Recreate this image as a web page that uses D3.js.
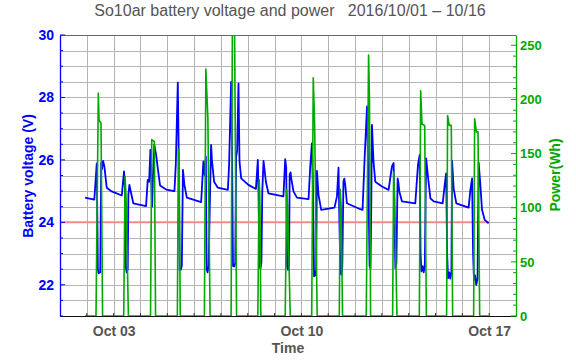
<!DOCTYPE html>
<html><head><meta charset="utf-8">
<script src="https://cdn.jsdelivr.net/npm/d3@7"></script>
<style>body{margin:0;background:#fff}svg{display:block}text{font-family:"Liberation Sans",Arial,sans-serif}</style>
</head><body>
<script>
// ---- data (hours since 2016-10-01 00:00) ----
const voltHours = [22.4,30.7,32.9,33.9,34.5,36.0,36.9,37.6,38.5,39.7,41.8,46.3,55.3,
 56.4,57.3,58.2,58.8,59.7,60.6,61.2,62.1,63.6,65.6,77.0,
 78.5,79.7,80.9,81.8,82.4,83.2,84.4,86.0,87.5,89.5,95.0,102.4,
 103.6,105.4,106.3,107.0,108.0,109.0,110.0,111.3,113.5,126.3,
 128.3,129.5,130.5,131.2,132.0,133.0,134.3,135.2,135.9,137.9,141.2,150.2,
 151.3,153.1,154.0,154.8,155.8,156.8,157.6,158.5,159.7,160.6,162.1,168.6,175.3,
 177.0,177.6,178.4,179.4,180.2,181.0,182.1,184.2,186.5,199.9,
 201.5,202.4,203.2,204.0,204.9,205.5,206.3,206.9,208.9,212.0,222.4,
 223.9,225.4,226.4,227.3,228.3,229.2,229.9,231.3,233.7,245.6,
 247.8,249.2,250.0,250.9,251.8,252.6,253.6,254.4,255.2,256.7,268.7,270.7,
 272.5,274.7,276.1,277.0,277.8,278.5,279.1,280.5,282.1,288.1,294.0,
 297.0,298.5,299.3,300.1,301.0,301.7,302.1,302.7,303.6,306.0,317.9,
 320.3,321.8,322.6,323.4,324.5,325.4,326.4,327.6,329.4,331.4,334.4,342.4,
 344.2,345.5,346.4,347.2,348.3,349.2,350.2,350.8,352.2,354.6,365.6,
 367.2,368.7,369.6,370.4,371.4,372.4,373.6,374.6,376.1,377.6,380.0,383.5];
const voltValues = [24.79,24.73,25.89,22.5,22.37,22.4,25.9,25.7,25.97,25.79,25.11,24.99,24.86,
 25.3,25.63,25.0,22.6,22.4,22.5,24.9,25.2,24.94,24.61,24.52,
 25.36,25.3,26.32,25.2,24.5,25.5,26.48,26.16,25.73,25.18,25.05,25.0,
 25.84,28.47,26.0,22.5,22.48,22.6,25.68,25.2,24.79,24.65,
 25.95,25.5,26.1,22.5,22.4,22.6,25.0,26.48,26.0,25.3,25.11,25.04,
 25.84,28.5,26.0,22.6,22.59,22.7,26.1,26.3,28.45,25.95,25.41,25.2,25.07,
 26.0,25.0,22.6,22.53,22.7,25.0,25.97,25.3,24.93,24.83,
 26.02,25.75,22.6,22.48,22.6,25.52,25.6,25.41,24.99,24.79,24.74,
 25.79,26.53,25.0,22.27,22.3,22.5,25.65,24.88,24.4,24.47,
 24.83,25.75,24.0,22.4,22.32,22.6,25.3,25.4,25.2,24.61,24.42,24.4,
 26.0,27.71,24.88,22.6,22.53,24.5,27.12,25.95,25.3,25.15,25.04,
 25.79,25.9,24.0,22.53,22.7,24.5,25.41,25.3,24.99,24.67,24.61,
 25.84,26.16,23.0,22.43,22.6,22.4,22.6,26.05,25.41,24.77,24.67,24.61,
 25.2,25.57,23.0,22.21,22.4,22.2,22.4,25.97,25.09,24.61,24.47,
 25.04,25.41,23.0,22.16,22.3,22.0,22.2,25.91,25.2,24.4,24.08,23.97];
const powerHours = [22.4,
 32.2,34.3,34.9,36.7,38.1,
 57.0,58.2,59.1,61.2,
 81.0,82.1,84.4,85.5,
 105.0,105.9,106.6,107.6,
 129.2,130.5,132.3,134.3,
 153.1,154.3,156.2,158.0,
 177.0,178.2,178.8,179.7,
 201.5,202.8,203.7,206.0,
 225.2,226.6,227.8,230.1,
 249.9,250.7,251.6,252.8,
 274.0,276.1,276.9,277.9,
 297.6,298.5,299.4,301.5,
 321.5,322.7,323.9,326.3,327.8,
 345.9,346.8,348.3,350.1,351.3,
 370.1,371.0,372.5,374.0,375.5,
 383.5];
const powerValues = [0,
 0,206,181,178,0,
 0,129,109,0,
 0,163,161,0,
 0,154,140,0,
 0,228,183,0,
 0,285,262,0,
 0,126,110,0,
 0,117,100,0,
 0,220,179,0,
 0,117,100,0,
 0,241,200,0,
 0,133,109,0,
 0,208,177,176,0,
 0,185,176,176,0,
 0,182,170,170,0,
 0];
const thresholdVolt = [24];
const thresholdDays = ["2016-10-01","2016-10-17"];
const voltTicks = [22,24,26,28,30];
const powerTicks = [0,50,100,150,200,250];
const dateTicks = ["2016-10-03","2016-10-10","2016-10-17"];
const titleText = "So10ar battery voltage and power\u00a0\u00a0\u00a02016/10/01 \u2013 10/16";

// ---- layout ----
const W = 576, H = 362;
const L = 60, R = 516, T = 35, B = 316;
const base = Date.UTC(2016, 9, 1);
const toDate = h => new Date(base + h * 3600e3);
const parse = d3.utcParse("%Y-%m-%d");

const x = d3.scaleUtc().domain([new Date(base), new Date(Date.UTC(2016, 9, 18))]).range([L, R]);
const yV = d3.scaleLinear().domain([21, 30]).range([B, T]);
const yP = d3.scaleLinear().domain([0, 259.5]).range([B, T]);

const blue = "#0000ff", green = "#00a800", gray = "#555555";

const svg = d3.select("body").append("svg").attr("width", W).attr("height", H);
svg.append("defs").append("clipPath").attr("id", "clip")
  .append("rect").attr("x", L).attr("y", T).attr("width", R - L).attr("height", B - T);

// grid
const grid = svg.append("g").attr("stroke", "#b4b4b4").attr("stroke-width", 1);
d3.utcDay.range(d3.utcDay.offset(x.domain()[0], 1), x.domain()[1]).forEach(d => {
  grid.append("line").attr("x1", Math.round(x(d)) + 0.5).attr("x2", Math.round(x(d)) + 0.5)
    .attr("y1", T).attr("y2", B);
});
d3.range(21.5, 30, 0.5).forEach(v => {
  grid.append("line").attr("x1", L).attr("x2", R)
    .attr("y1", Math.round(yV(v)) + 0.5).attr("y2", Math.round(yV(v)) + 0.5);
});

const plot = svg.append("g").attr("clip-path", "url(#clip)");
// threshold
plot.append("line")
  .attr("x1", x(parse(thresholdDays[0]))).attr("x2", x(parse(thresholdDays[1])))
  .attr("y1", yV(thresholdVolt[0])).attr("y2", yV(thresholdVolt[0]))
  .attr("stroke", "#f48a8a").attr("stroke-width", 2);

// voltage line
const vData = voltHours.map((h, i) => [toDate(h), voltValues[i]]);
plot.append("path").datum(vData)
  .attr("fill", "none").attr("stroke", blue).attr("stroke-width", 1.8).attr("stroke-linejoin", "round")
  .attr("d", d3.line().x(d => x(d[0])).y(d => yV(d[1])));

// power line
const pData = powerHours.map((h, i) => [toDate(h), powerValues[i]]);
plot.append("path").datum(pData)
  .attr("fill", "none").attr("stroke", green).attr("stroke-width", 1.6).attr("stroke-linejoin", "round")
  .attr("d", d3.line().x(d => x(d[0])).y(d => yP(d[1])));

// frame
svg.append("line").attr("x1", L).attr("x2", R).attr("y1", T + 0.5).attr("y2", T + 0.5).attr("stroke", "#666");

// bottom axis
const xAxis = d3.axisBottom(x).tickValues(dateTicks.map(parse)).tickFormat(d3.utcFormat("%b %d")).tickSize(0).tickPadding(10);
const gx = svg.append("g").attr("transform", `translate(0,${B})`).call(xAxis);
gx.select(".domain").attr("stroke", "#111").attr("stroke-width", 1.2);
gx.selectAll("text").attr("fill", gray).attr("font-size", 14).attr("font-weight", "bold");
d3.utcDay.range(d3.utcDay.offset(x.domain()[0], 1), x.domain()[1]).forEach(d => {
  gx.append("line").attr("x1", x(d)).attr("x2", x(d)).attr("y1", 0).attr("y2", -3).attr("stroke", "#333");
});

// left axis
const yAxisL = d3.axisLeft(yV).tickValues(voltTicks).tickSize(0).tickPadding(6).tickFormat(d3.format("d"));
const gl = svg.append("g").attr("transform", `translate(${L},0)`).call(yAxisL);
gl.select(".domain").attr("stroke", blue).attr("stroke-width", 1.3);
gl.selectAll("text").attr("fill", blue).attr("font-size", 14).attr("font-weight", "bold");
d3.range(21, 30.01, 0.5).forEach(v => {
  gl.append("line").attr("x1", 0).attr("x2", v % 2 === 0 ? 5 : 3).attr("y1", yV(v)).attr("y2", yV(v)).attr("stroke", blue);
});

// right axis
const yAxisR = d3.axisRight(yP).tickValues(powerTicks).tickSize(0).tickPadding(4);
const gr = svg.append("g").attr("transform", `translate(${R},0)`).call(yAxisR);
gr.select(".domain").attr("stroke", green).attr("stroke-width", 1.3);
gr.selectAll("text").attr("fill", green).attr("font-size", 13).attr("font-weight", "bold");
d3.range(0, 251, 10).forEach(v => {
  gr.append("line").attr("x1", 0).attr("x2", v % 50 === 0 ? -5 : -3).attr("y1", yP(v)).attr("y2", yP(v)).attr("stroke", green);
});

// labels
svg.append("text").attr("x", 290).attr("y", 16).attr("text-anchor", "middle")
  .attr("fill", gray).attr("font-size", 16).text(titleText);
svg.append("text").attr("x", 288).attr("y", 353).attr("text-anchor", "middle")
  .attr("fill", gray).attr("font-size", 14).attr("font-weight", "bold").text("Time");
svg.append("text").attr("transform", "translate(33,176) rotate(-90)").attr("text-anchor", "middle")
  .attr("fill", blue).attr("font-size", 14).attr("font-weight", "bold").text("Battery voltage (V)");
svg.append("text").attr("transform", "translate(560,175) rotate(-90)").attr("text-anchor", "middle")
  .attr("fill", green).attr("font-size", 14).attr("font-weight", "bold").text("Power(Wh)");
</script>
</body></html>
